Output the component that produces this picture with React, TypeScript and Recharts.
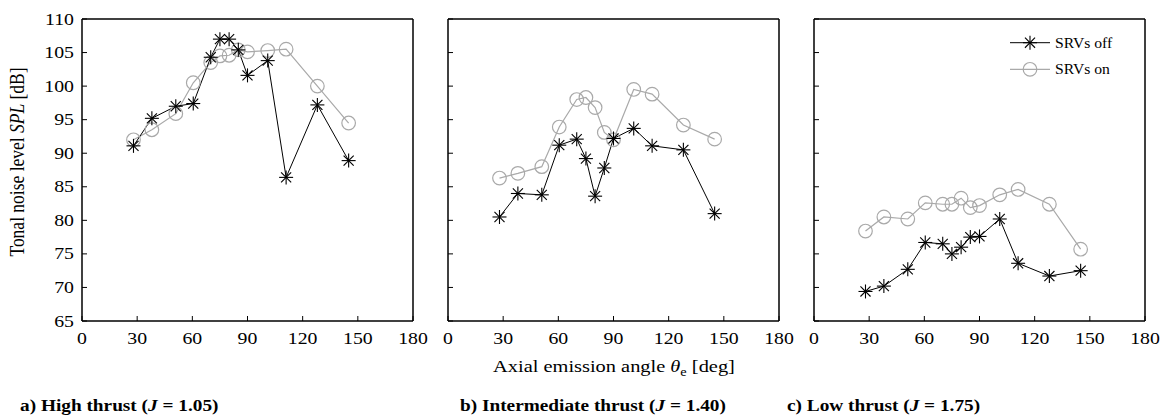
import React from 'react';
import { LineChart, Line, XAxis, YAxis, Legend } from 'recharts';

// measured emission angles (deg), shared by all three thrust cases
const angles = [28, 38, 51, 60.5, 70, 75, 80, 85, 90, 101, 111, 128, 145];

// a) high thrust J = 1.05
const highOff = [91.1, 95.2, 97.0, 97.4, 104.3, 107.0, 107.0, 105.4, 101.6, 103.8, 86.4, 97.2, 88.9];
const highOn = [92.0, 93.5, 95.9, 100.5, 103.5, 104.5, 104.6, 105.4, 105.1, 105.3, 105.5, 100.0, 94.5];

// b) intermediate thrust J = 1.40
const midOff = [80.5, 84.0, 83.8, 91.2, 92.1, 89.2, 83.6, 87.8, 92.2, 93.7, 91.1, 90.5, 81.0];
const midOn = [86.3, 87.0, 88.0, 93.9, 98.0, 98.3, 96.8, 93.1, 92.0, 99.5, 98.8, 94.2, 92.1];

// c) low thrust J = 1.75
const lowOff = [69.4, 70.2, 72.7, 76.7, 76.5, 75.0, 76.0, 77.5, 77.6, 80.2, 73.6, 71.7, 72.5];
const lowOn = [78.4, 80.5, 80.2, 82.6, 82.4, 82.4, 83.3, 81.9, 82.2, 83.8, 84.6, 82.4, 75.7];

const xTicks = [0, 30, 60, 90, 120, 150, 180];
const yTicks = [65, 70, 75, 80, 85, 90, 95, 100, 105, 110];

const FONT = '"Liberation Serif", "Times New Roman", serif';
const GRAY = '#a9a9a9';
const PLOT_W = 331;
const PAD = 60;
const CHART_H = 419;
const STRETCH = 1.2; // the source figure's lettering is a bit wide

const toRows = (vals: number[]) => angles.map((a, i) => ({ angle: a, spl: vals[i] }));

const Asterisk = ({ cx, cy, r = 7 }: { cx: number; cy: number; r?: number }) => {
  const d = r * 0.72;
  return (
    <g stroke="#000" strokeWidth={1.1}>
      <line x1={cx - r} y1={cy} x2={cx + r} y2={cy} />
      <line x1={cx} y1={cy - r} x2={cx} y2={cy + r} />
      <line x1={cx - d} y1={cy - d} x2={cx + d} y2={cy + d} />
      <line x1={cx - d} y1={cy + d} x2={cx + d} y2={cy - d} />
    </g>
  );
};

const Ring = ({ cx, cy }: { cx: number; cy: number }) => (
  <circle cx={cx} cy={cy} r={6.8} fill="none" stroke={GRAY} strokeWidth={1.2} />
);

const Label = ({ x, y, anchor = 'start', size = 16.5, sx = STRETCH, weight = 'normal', children }: any) => (
  <text transform={`translate(${x},${y}) scale(${sx},1)`} textAnchor={anchor} fontSize={size}
    fontWeight={weight} fontFamily={FONT} fill="#000">
    {children}
  </text>
);

const bottomTick = (props: any) => {
  const { x, y, payload } = props;
  return (
    <g>
      <line x1={x} y1={y} x2={x} y2={y - 5} stroke="#000" />
      <Label x={x} y={y + 23} anchor="middle">{payload.value}</Label>
    </g>
  );
};

const topTick = (props: any) => {
  const { x, y } = props;
  return <line x1={x} y1={y} x2={x} y2={y + 5} stroke="#000" />;
};

const leftTick = (showLabel: boolean) => (props: any) => {
  const { x, y, payload } = props;
  return (
    <g>
      <line x1={x} y1={y} x2={x + 5} y2={y} stroke="#000" />
      {showLabel && <Label x={x - 8} y={y + 5.5} anchor="end">{payload.value}</Label>}
    </g>
  );
};

const rightTick = (props: any) => {
  const { x, y } = props;
  return <line x1={x} y1={y} x2={x - 5} y2={y} stroke="#000" />;
};

const LegendBox = () => (
  <svg width={150} height={52} style={{ overflow: 'visible' }}>
    <line x1={6} y1={12.7} x2={46} y2={12.7} stroke="#000" strokeWidth={1} />
    <Asterisk cx={26} cy={12.7} />
    <Label x={51} y={17.5} size={14.5} sx={1.08}>SRVs off</Label>
    <line x1={6} y1={39.3} x2={46} y2={39.3} stroke={GRAY} strokeWidth={1.2} />
    <Ring cx={26} cy={39.3} />
    <Label x={51} y={44} size={14.5} sx={1.08}>SRVs on</Label>
  </svg>
);

const axisLine = { stroke: '#000', strokeWidth: 1.5 };

const Panel = ({ plotLeft, off, on, showY, showLegend }: {
  plotLeft: number; off: number[]; on: number[]; showY: boolean; showLegend: boolean;
}) => (
  <div style={{ position: 'absolute', left: plotLeft - PAD, top: 0 }}>
    <LineChart
      width={PLOT_W + PAD * 2}
      height={CHART_H}
      margin={{ top: 18, right: PAD - 1, bottom: 97, left: PAD - 1 }}
    >
      <XAxis dataKey="angle" type="number" domain={[0, 180]} ticks={xTicks} interval={0}
        height={1} tickSize={0} tickMargin={0} tickLine={false} axisLine={axisLine} tick={bottomTick} />
      <XAxis xAxisId="top" orientation="top" dataKey="angle" type="number" domain={[0, 180]} ticks={xTicks}
        interval={0} height={1} tickSize={0} tickMargin={0} tickLine={false} axisLine={axisLine} tick={topTick} />
      <YAxis type="number" domain={[65, 110]} ticks={yTicks} interval={0} width={1}
        tickSize={0} tickMargin={0} tickLine={false} axisLine={axisLine} tick={leftTick(showY)} />
      <YAxis yAxisId="right" orientation="right" type="number" domain={[65, 110]} ticks={yTicks} interval={0}
        width={1} tickSize={0} tickMargin={0} tickLine={false} axisLine={axisLine} tick={rightTick} />
      <Line data={toRows(on)} dataKey="spl" name="SRVs on" stroke={GRAY} strokeWidth={1.2}
        isAnimationActive={false}
        dot={(p: any) => <Ring key={`on-${p.index}`} cx={p.cx} cy={p.cy} />} />
      <Line data={toRows(off)} dataKey="spl" name="SRVs off" stroke="#000" strokeWidth={1}
        isAnimationActive={false}
        dot={(p: any) => <Asterisk key={`off-${p.index}`} cx={p.cx} cy={p.cy} />} />
      {showLegend && (
        <Legend layout="vertical" align="center" verticalAlign="middle"
          wrapperStyle={{ left: 250, top: 30, width: 150, height: 52 }}
          content={() => <LegendBox />} />
      )}
    </LineChart>
  </div>
);

export default function App() {
  return (
    <div style={{ position: 'absolute', left: 0, top: 0, width: 1167, height: 419, background: '#fff' }}>
      <Panel plotLeft={82} off={highOff} on={highOn} showY showLegend={false} />
      <Panel plotLeft={448} off={midOff} on={midOn} showY={false} showLegend={false} />
      <Panel plotLeft={814} off={lowOff} on={lowOn} showY={false} showLegend />
      <svg width={1167} height={419} style={{ position: 'absolute', left: 0, top: 0, pointerEvents: 'none' }}
        fontFamily={FONT} fill="#000">
        <text transform="translate(24,162) rotate(-90) scale(1,1.15)" textAnchor="middle" fontSize={17.5}>
          Tonal noise level <tspan fontStyle="italic">SPL</tspan> [dB]
        </text>
        <Label x={614} y={372} anchor="middle" size={17}>
          Axial emission angle <tspan fontStyle="italic">θ</tspan>
          <tspan fontSize={12} dy={4}>e</tspan>
          <tspan dy={-4}> [deg]</tspan>
        </Label>
        <Label x={20} y={411} weight="bold" sx={1.17}>
          a) High thrust (<tspan fontStyle="italic">J</tspan> = 1.05)
        </Label>
        <Label x={460} y={411} weight="bold" sx={1.17}>
          b) Intermediate thrust (<tspan fontStyle="italic">J</tspan> = 1.40)
        </Label>
        <Label x={787} y={411} weight="bold" sx={1.17}>
          c) Low thrust (<tspan fontStyle="italic">J</tspan> = 1.75)
        </Label>
      </svg>
    </div>
  );
}
